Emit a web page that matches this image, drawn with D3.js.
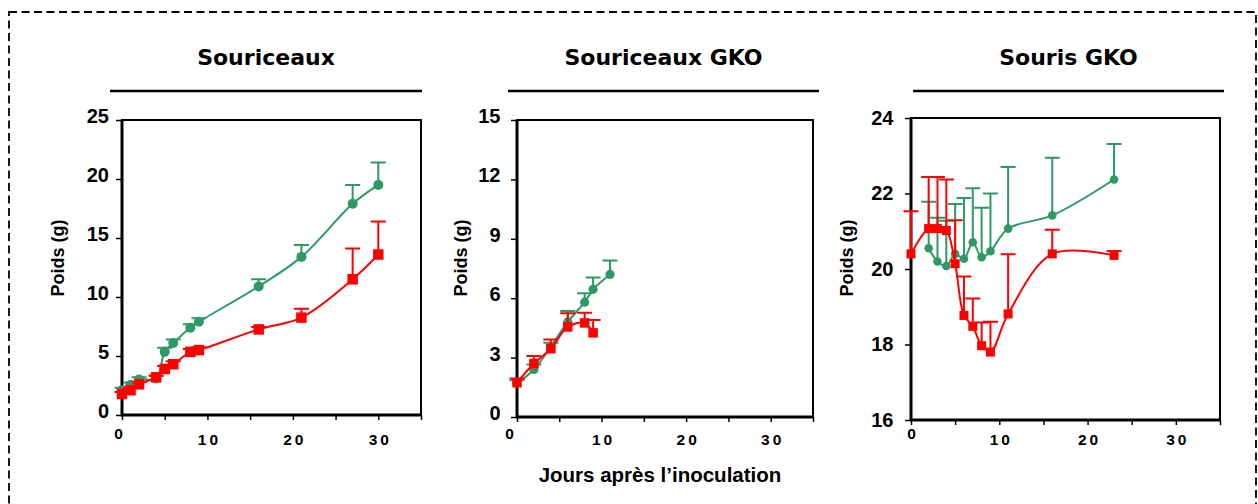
<!DOCTYPE html>
<html>
<head>
<meta charset="utf-8">
<script src="https://cdn.jsdelivr.net/npm/d3@7"></script>
<style>
  body { margin: 0; background: #fff; }
  svg { display: block; }
  .tick text { font-family: Arial, "Liberation Sans", sans-serif; font-weight: bold; fill: #000; }
  .tick line { stroke: #000; stroke-width: 1.5; }
</style>
</head>
<body>
<div id="chart"></div>
<script>
/**
 * CONSTANTS AND GLOBALS
 * */
const width = 1258,
  height = 504,
  green = "#2f9966",
  red = "#ff0000";

/**
 * DATA (mean and mean + SD, in grams)
 * */
// Souriceaux
const days1 = [0, 1, 2, 4, 5, 6, 8, 9, 16, 21, 27, 30];
const green1 = [2.1, 2.55, 3.0, 3.1, 5.35, 6.1, 7.4, 7.9, 10.9, 13.4, 17.9, 19.5];
const green1Top = [2.3, 2.75, 3.2, 3.3, 5.7, 6.4, 7.7, 8.2, 11.5, 14.4, 19.5, 21.4];
const red1 = [1.78, 2.1, 2.6, 3.2, 3.9, 4.3, 5.35, 5.5, 7.25, 8.25, 11.5, 13.6];
const red1Top = [1.95, 2.3, 2.8, 3.35, 4.15, 4.55, 5.6, 5.75, 7.45, 9.0, 14.1, 16.4];

// Souriceaux GKO
const days2Green = [0, 2, 4, 6, 8, 9, 11];
const green2 = [1.7, 2.4, 3.55, 4.8, 5.8, 6.45, 7.2];
const green2Top = [1.85, 2.65, 3.75, 5.35, 6.25, 7.05, 7.9];
const days2Red = [0, 2, 4, 6, 8, 9];
const red2 = [1.73, 2.7, 3.45, 4.55, 4.75, 4.25];
const red2Top = [1.95, 3.08, 3.92, 5.24, 5.27, 4.9];

// Souris GKO
const days3Green = [2, 3, 4, 5, 6, 7, 8, 9, 11, 16, 23];
const green3 = [20.55, 20.2, 20.08, 20.4, 20.27, 20.71, 20.31, 20.47, 21.07, 21.42, 22.37];
const green3Top = [21.78, 21.36, 21.28, 21.72, 21.88, 22.14, 21.62, 22.0, 22.7, 22.95, 23.31];
const days3Red = [0, 2, 3, 4, 5, 6, 7, 8, 9, 11, 16, 23];
const red3 = [20.4, 21.07, 21.07, 21.02, 20.14, 18.77, 18.48, 17.97, 17.8, 18.81, 20.4, 20.36];
const red3Top = [21.53, 22.44, 22.44, 22.37, 21.29, 19.8, 19.22, 18.58, 18.6, 20.39, 21.04, 20.48];

const titles = ["Souriceaux", "Souriceaux GKO", "Souris GKO"];
const xTickLabels = [0, 10, 20, 30];
const xTickMarks = [0, 5, 10, 15, 20, 25, 30, 35];
const yTicks1 = [0, 5, 10, 15, 20, 25];
const yTicks2 = [0, 3, 6, 9, 12, 15];
const yTicks3 = [16, 18, 20, 22, 24];
const yLabel = "Poids (g)";
const xLabel = "Jours après l\u2019inoculation";

// build helper: zip days/mean/top into point objects
const zip = (days, mean, top) => days.map((d, i) => ({ day: d, mean: mean[i], top: top[i] }));

const panels = [
  {
    title: titles[0], yDomain: [0, 25], yTicks: yTicks1,
    series: [
      { color: green, shape: "circle", pts: zip(days1, green1, green1Top) },
      { color: red, shape: "square", pts: zip(days1, red1, red1Top) }
    ],
    // layout
    left: 122, right: 421, top: 120, bottom: 415, rule: [110, 422], labelX: 64,
    yPad: 7, yShift: -4, zeroShift: [-4, -6], r: 5, sq: 10.5
  },
  {
    title: titles[1], yDomain: [0, 15], yTicks: yTicks2,
    series: [
      { color: green, shape: "circle", pts: zip(days2Green, green2, green2Top) },
      { color: red, shape: "square", pts: zip(days2Red, red2, red2Top) }
    ],
    left: 517, right: 813, top: 120, bottom: 417, rule: [508, 819], labelX: 467,
    yPad: 10.5, yShift: -4, zeroShift: [-8, -6], r: 4.6, sq: 9.5
  },
  {
    title: titles[2], yDomain: [16, 24], yTicks: yTicks3,
    series: [
      { color: green, shape: "circle", pts: zip(days3Green, green3, green3Top) },
      { color: red, shape: "square", pts: zip(days3Red, red3, red3Top) }
    ],
    left: 911, right: 1220, top: 118, bottom: 420, rule: [913, 1224], labelX: 853,
    yPad: 11.5, yShift: 0, zeroShift: [0, -6], r: 4.3, sq: 9
  }
];

let svg;

/**
 * INIT
 * */
function init() {
  svg = d3.select("#chart")
    .append("svg")
    .attr("width", width)
    .attr("height", height);

  svg.append("rect")
    .attr("width", width)
    .attr("height", height)
    .attr("fill", "#fff");

  // dashed outer box (bottom edge runs off the picture)
  svg.append("rect")
    .attr("x", 9)
    .attr("y", 12)
    .attr("width", 1247)
    .attr("height", 530)
    .attr("fill", "none")
    .attr("stroke", "#000")
    .attr("stroke-width", 1.8)
    .attr("stroke-dasharray", "8,4.5");

  panels.forEach(drawPanel);

  svg.append("text")
    .attr("x", 660)
    .attr("y", 482)
    .attr("text-anchor", "middle")
    .style("font-family", "Arial, 'Liberation Sans', sans-serif")
    .style("font-weight", "bold")
    .style("font-size", "20.5px")
    .text(xLabel);
}

function drawPanel(p) {
  const g = svg.append("g");

  const xScale = d3.scaleLinear().domain([0, 35]).range([p.left, p.right]);
  const yScale = d3.scaleLinear().domain(p.yDomain).range([p.bottom, p.top]);

  // title + rule
  g.append("text")
    .attr("x", (p.rule[0] + p.rule[1]) / 2)
    .attr("y", 65)
    .attr("text-anchor", "middle")
    .style("font-family", "'Comic Sans MS', 'DejaVu Sans', sans-serif")
    .style("font-weight", "bold")
    .style("font-size", "22px")
    .text(p.title);

  g.append("line")
    .attr("x1", p.rule[0]).attr("x2", p.rule[1])
    .attr("y1", 91).attr("y2", 91)
    .attr("stroke", "#000")
    .attr("stroke-width", 2.3);

  // axes
  const xAxis = d3.axisBottom(xScale)
    .tickValues(xTickMarks)
    .tickSize(5)
    .tickPadding(439 - 10.4 - p.bottom)
    .tickFormat(d => xTickLabels.includes(d) ? d : "");

  const xg = g.append("g")
    .attr("transform", `translate(0,${p.bottom})`)
    .call(xAxis);
  xg.select(".domain").remove();
  xg.selectAll(".tick text")
    .style("font-size", "15.5px")
    .style("letter-spacing", "3px")
    .attr("dx", "1.5px");
  xg.selectAll(".tick text")
    .filter(d => d === 0)
    .attr("dx", p.zeroShift[0] + 1.5)
    .attr("y", function () { return +d3.select(this).attr("y") + p.zeroShift[1]; });

  const yAxis = d3.axisLeft(yScale)
    .tickValues(p.yTicks)
    .tickSize(6)
    .tickPadding(p.yPad);

  const yg = g.append("g")
    .attr("transform", `translate(${p.left},0)`)
    .call(yAxis);
  yg.select(".domain").remove();
  yg.selectAll(".tick text")
    .style("font-size", "20px")
    .attr("y", p.yShift);

  // frame
  g.append("rect")
    .attr("x", p.left).attr("y", p.top)
    .attr("width", p.right - p.left)
    .attr("height", p.bottom - p.top)
    .attr("fill", "none")
    .attr("stroke", "#000")
    .attr("stroke-width", 2);

  g.append("path")
    .attr("d", `M${p.left},${p.top}V${p.bottom}H${p.right}`)
    .attr("fill", "none")
    .attr("stroke", "#000")
    .attr("stroke-width", 3);

  // y label
  g.append("text")
    .attr("transform", `translate(${p.labelX},258) rotate(-90)`)
    .attr("text-anchor", "middle")
    .style("font-family", "Arial, 'Liberation Sans', sans-serif")
    .style("font-weight", "bold")
    .style("font-size", "18px")
    .text(yLabel);

  const lineFunc = d3.line()
    .curve(d3.curveCatmullRom.alpha(0.5))
    .x(d => xScale(d.day))
    .y(d => yScale(d.mean));

  const capHalf = 7.5;

  p.series.forEach(s => {
    const sg = g.append("g");

    // error bars (upper only)
    sg.selectAll("path.err")
      .data(s.pts)
      .join("path")
      .attr("class", "err")
      .attr("d", d => {
        const x = xScale(d.day), y0 = yScale(d.mean), y1 = yScale(d.top);
        return `M${x},${y0}V${y1}M${x - capHalf},${y1}H${x + capHalf}`;
      })
      .attr("fill", "none")
      .attr("stroke", s.color)
      .attr("stroke-width", 2);

    sg.append("path")
      .datum(s.pts)
      .attr("d", lineFunc)
      .attr("fill", "none")
      .attr("stroke", s.color)
      .attr("stroke-width", 2);

    if (s.shape === "circle") {
      sg.selectAll("circle")
        .data(s.pts)
        .join("circle")
        .attr("cx", d => xScale(d.day))
        .attr("cy", d => yScale(d.mean))
        .attr("r", p.r)
        .attr("fill", s.color);
    } else {
      sg.selectAll("rect")
        .data(s.pts)
        .join("rect")
        .attr("x", d => xScale(d.day) - p.sq / 2)
        .attr("y", d => yScale(d.mean) - p.sq / 2)
        .attr("width", p.sq)
        .attr("height", p.sq)
        .attr("fill", s.color);
    }
  });
}

init();
</script>
</body>
</html>
